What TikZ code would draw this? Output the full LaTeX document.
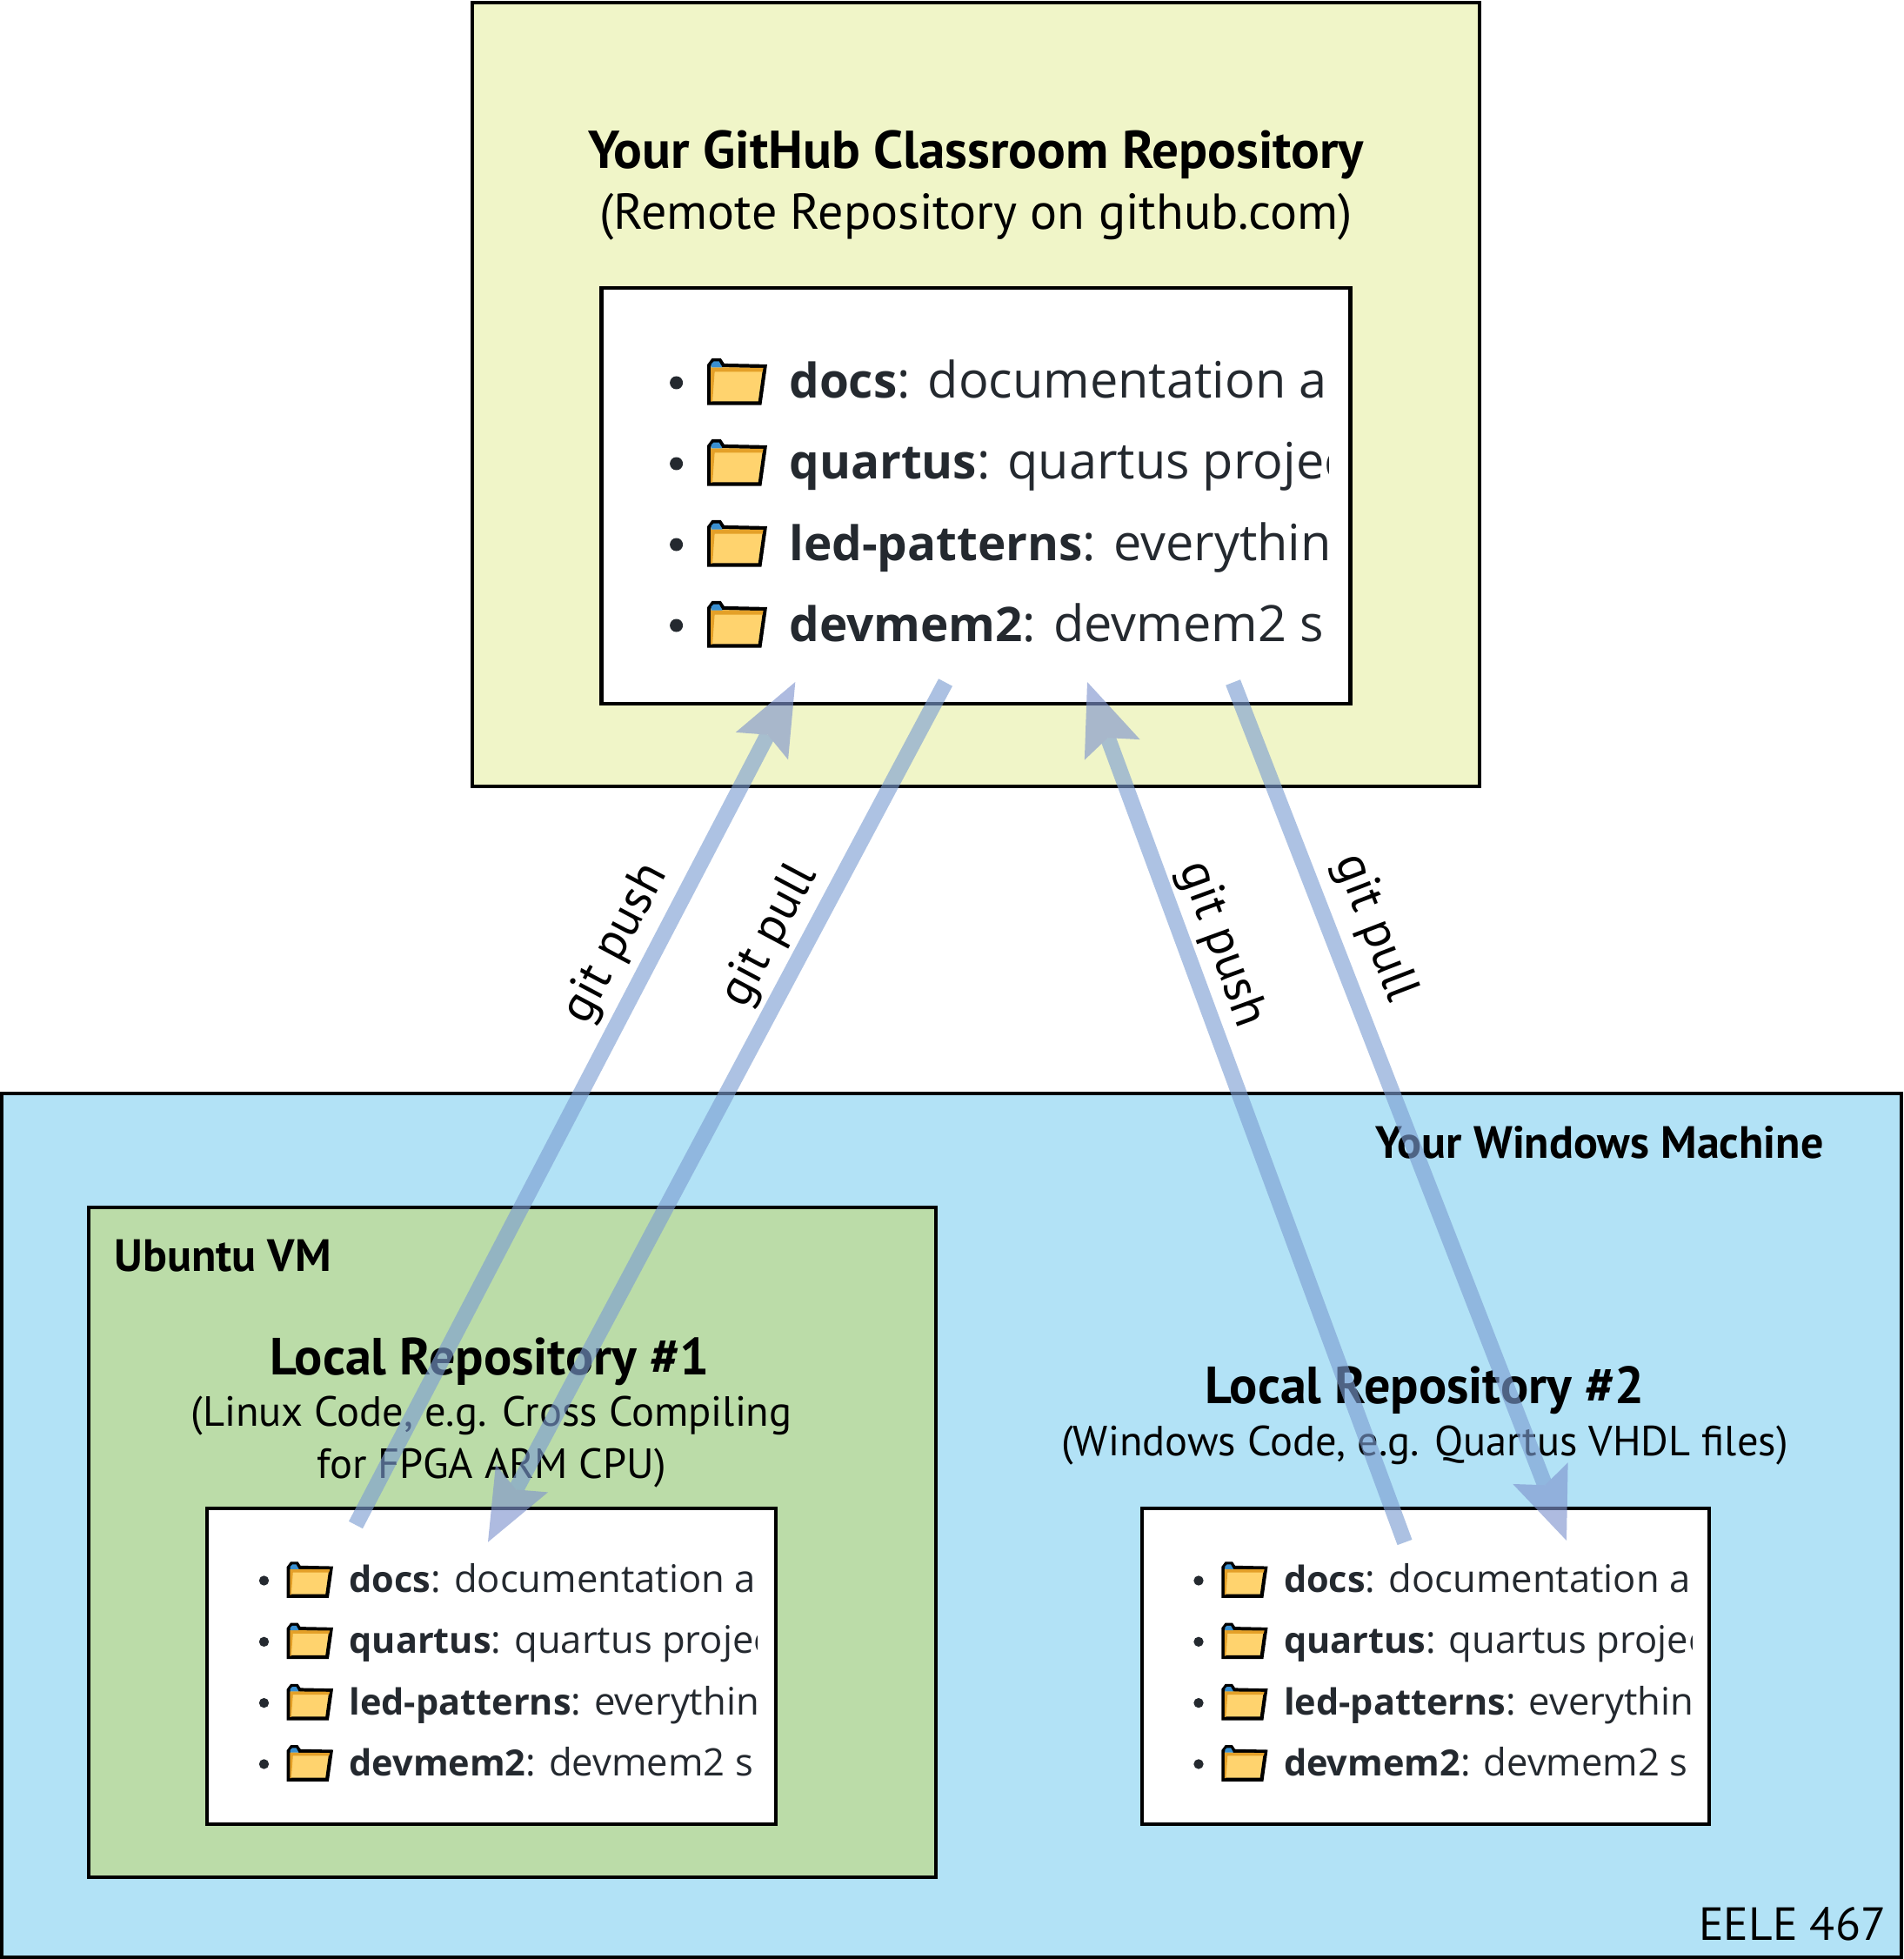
\documentclass[tikz,border=0pt]{standalone}
\usepackage{fontspec}
\setmainfont{PT Sans}
\newfontfamily\listfont{Open Sans}
\usetikzlibrary{arrows.meta,positioning,calc}
\definecolor{remotebg}{RGB}{240,245,200}
\definecolor{windowsbg}{RGB}{178,226,246}
\definecolor{vmbg}{RGB}{187,220,168}
\definecolor{arrowblue}{RGB}{125,158,210}
\definecolor{arrowhead}{RGB}{127,148,206}
\definecolor{foldermain}{RGB}{255,211,110}
\definecolor{folderdark}{RGB}{228,160,40}
\definecolor{foldertab}{RGB}{58,143,208}
\definecolor{listtext}{RGB}{36,41,47}
\tikzset{
  repo box/.style={draw=black,line width=1.2pt,anchor=north west,inner sep=0,outer sep=0},
  list box/.style={draw=black,line width=1.2pt,fill=white,inner sep=0,outer sep=0},
  title/.style={anchor=base,inner sep=0,font=\fontsize{17.1}{20}\selectfont\bfseries},
  subtitle/.style={anchor=base,inner sep=0,font=\fontsize{13.8}{17}\selectfont},
  corner label/.style={anchor=base,inner sep=0,font=\fontsize{14.8}{17}\selectfont\bfseries},
  git label/.style={inner sep=0,font=\fontsize{16.3}{19}\selectfont},
  git arrow/.style={draw=arrowblue,line width=.18cm,
    -{Stealth[length=.83cm,width=.68cm,inset=.146cm,line width=0pt,color=arrowhead]}},
  folder/.pic={
    \draw[line width=1.2pt,fill=foldermain,line join=miter]
      (.375,-.235) -- (.375,.2) -- (.42,.26) -- (.5,.26) -- (.54,.2)
      -- (1.02,.19) -- (.96,-.235) -- cycle;
    \fill[folderdark] (.395,-.215) -- (.395,.175) -- (1.0,.17) -- (.99,.125)
      -- (.44,.125) -- (.415,-.215) -- cycle;
    \fill[foldertab] (.4,.175) -- (.4,.215) -- (.43,.245) -- (.49,.245) -- (.53,.175) -- cycle;
  },
  repo list/.pic={
    \begin{scope}
      \clip (-.3,.5) rectangle (7.5,-3.5);
      \foreach \row/\name/\rest in {0/docs/documentation a,1/quartus/quartus projec,
          2/led-patterns/everythin,3/devmem2/devmem2 s}{
        \fill[listtext] (0,-.93*\row) circle (.075);
        \pic at (0,-.93*\row) {folder};
        \node[anchor=base west,inner sep=0,text=listtext,transform shape,
          font=\listfont\fontsize{16.4}{20}\selectfont] (item\row)
          at (1.29,-.93*\row-.18) {{\fontsize{15.6}{20}\selectfont\bfseries\name}: \rest};
      }
    \end{scope}
  }
}
\begin{document}
\begin{tikzpicture}
  \useasboundingbox (0,0) rectangle (21.88,-22.52);
  \node[repo box,fill=remotebg,minimum width=11.58cm,minimum height=9.01cm] (remote) at (5.43,-.03) {};
  \node[repo box,fill=windowsbg,minimum width=21.84cm,minimum height=9.93cm] (windows) at (.02,-12.57) {};
  \node[repo box,fill=vmbg,minimum width=9.74cm,minimum height=7.70cm] (vm) at (1.02,-13.88) {};
  \node[list box,minimum width=8.61cm,minimum height=4.78cm,below=3.28cm of remote.north] (remotelist) {};
  \node[list box,minimum width=6.54cm,minimum height=3.63cm,anchor=north west] (locallist1) at (2.38,-17.34) {};
  \node[list box,minimum width=6.52cm,minimum height=3.63cm,right=4.21cm of locallist1] (locallist2) {};

  \pic at (7.776,-4.40) {repo list};
  \pic[scale=.756,transform shape] at (3.035,-18.17) {repo list};
  \pic[scale=.756,transform shape] at (13.78,-18.17) {repo list};

  \node[title,font=\fontsize{17.4}{20}\selectfont\bfseries] (remotetitle) at (11.22,-1.94) {Your GitHub Classroom Repository};
  \node[subtitle,font=\fontsize{16.5}{20}\selectfont] (remotesub) at (11.22,-2.64) {(Remote Repository on github.com)};
  \node[corner label] (windowslabel) at (18.39,-13.31) {Your Windows Machine};
  \node[corner label,anchor=base west] (vmlabel) at (1.31,-14.61) {Ubuntu VM};
  \node[title] (localtitle1) at (5.63,-15.80) {Local Repository \#1};
  \node[subtitle] (localsub1) at (5.65,-16.395) {(Linux Code, e.g. Cross Compiling};
  \node[subtitle] (localsubb1) at (5.65,-16.995) {for FPGA ARM CPU)};
  \node[title] (localtitle2) at (16.38,-16.13) {Local Repository \#2};
  \node[subtitle] (localsub2) at (16.38,-16.735) {(Windows Code, e.g. Quartus VHDL files)};
  \node[corner label,anchor=base east,font=\fontsize{15.2}{18}\selectfont] (course) at (21.69,-22.30) {EELE 467};

  \node[git label,rotate=62] (pushlabel1) at (7.08,-10.85) {git push};
  \node[git label,rotate=62] (pulllabel1) at (8.85,-10.76) {git pull};
  \node[git label,rotate=-70] (pushlabel2) at (14.04,-10.86) {git push};
  \node[git label,rotate=-69] (pulllabel2) at (15.80,-10.67) {git pull};

  \coordinate (pushstart1) at (4.09,-17.53);
  \coordinate (pushend1) at (9.143,-7.84);
  \coordinate (pullstart1) at (10.87,-7.845);
  \coordinate (pullend1) at (5.61,-17.727);
  \coordinate (pushstart2) at (16.15,-17.73);
  \coordinate (pushend2) at (12.50,-7.84);
  \coordinate (pullstart2) at (14.176,-7.845);
  \coordinate (pullend2) at (18.01,-17.71);

  \begin{scope}[transparency group,opacity=.63]
    \draw[git arrow] (pushstart1) -- (pushend1);
    \draw[git arrow] (pullstart1) -- (pullend1);
    \draw[git arrow] (pushstart2) -- (pushend2);
    \draw[git arrow] (pullstart2) -- (pullend2);
  \end{scope}
\end{tikzpicture}
\end{document}
